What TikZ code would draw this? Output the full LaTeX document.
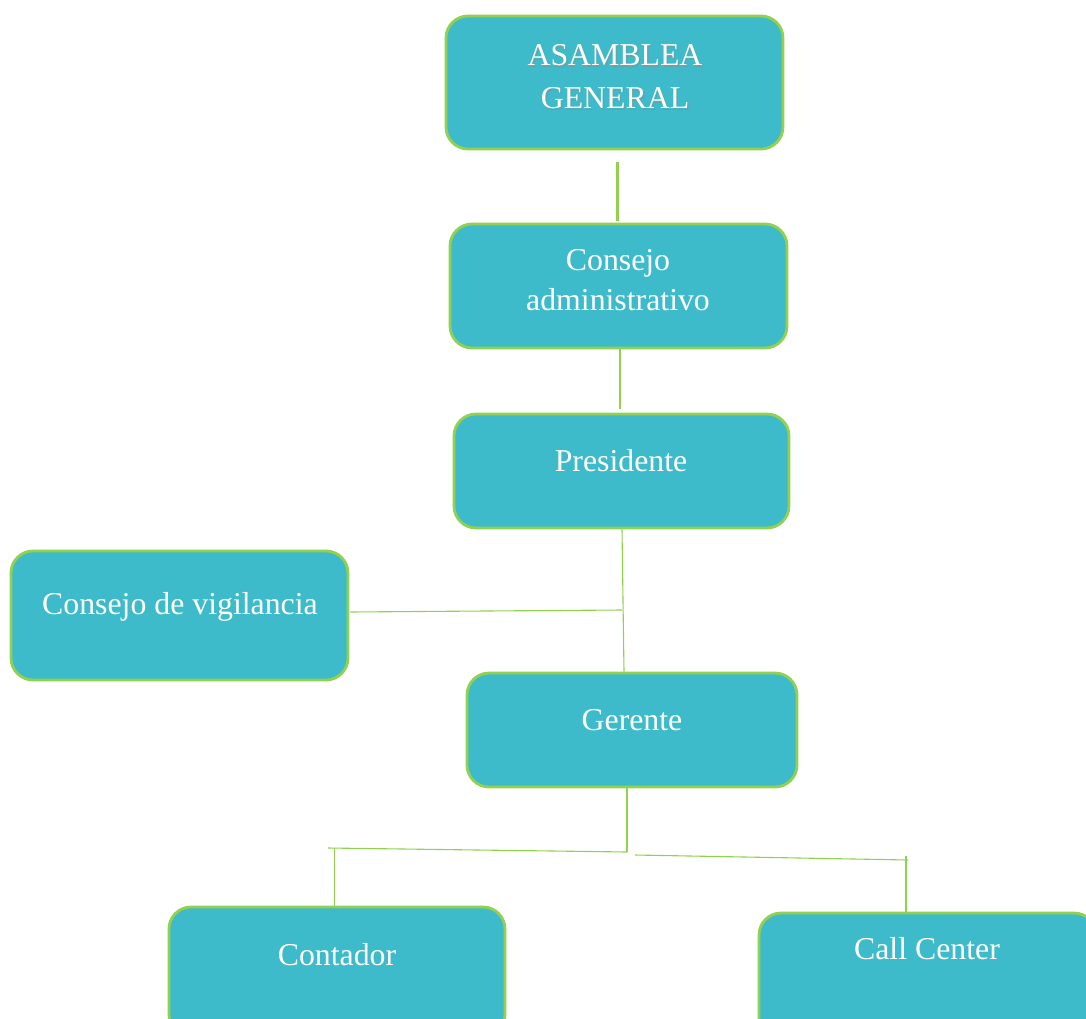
\documentclass[tikz,border=0pt]{standalone}
\usepackage{fontspec}
\setmainfont{Liberation Serif}
\definecolor{boxfill}{HTML}{3DBBCB}
\definecolor{boxline}{HTML}{92D050}
\tikzset{
  orgbox/.style={draw=boxline, line width=2.8pt, fill=boxfill, rounded corners=22pt, inner sep=0pt},
  orgtext/.style={text=white, font=\fontsize{31.8}{43}\selectfont, align=center, inner sep=0pt},
  shadowtext/.style={text=black!45, opacity=0.45, font=\fontsize{31.8}{43}\selectfont, align=center, inner sep=0pt},
  link/.style={draw=boxline, line width=1.1pt},
  thicklink/.style={draw=boxline, line width=3pt},
}
\begin{document}
\begin{tikzpicture}[x=1pt,y=-1pt]
\useasboundingbox (0,0) rectangle (1086,1019);
% boxes
\node[orgbox, minimum width=337pt, minimum height=133pt] (asam) at (614.5,82.5) {};
\node[orgbox, minimum width=337pt, minimum height=124pt] (cadm) at (618.5,286) {};
\node[orgbox, minimum width=335pt, minimum height=114pt] (pres) at (621.5,471) {};
\node[orgbox, minimum width=337pt, minimum height=129pt] (cvig) at (179.5,615.5) {};
\node[orgbox, minimum width=330pt, minimum height=114pt] (ger) at (632,730) {};
\node[orgbox, minimum width=336pt, minimum height=130pt] (cont) at (337,972) {};
\node[orgbox, minimum width=337pt, minimum height=130pt] (call) at (927.5,978) {};
% texts
\node[shadowtext] (asamsh) at (616.5,78.5) {ASAMBLEA\\GENERAL};
\node[orgtext] (asamt) at (615,76.5) {ASAMBLEA\\GENERAL};
\node[orgtext, font=\fontsize{31.8}{40}\selectfont] (cadmt) at (618,280) {Consejo\\administrativo};
\node[orgtext] (prest) at (621,461) {Presidente};
\node[orgtext] (cvigt) at (180,607) {Consejo de vigilancia};
\node[orgtext] (gert) at (632,720) {Gerente};
\node[orgtext] (contt) at (337,955) {Contador};
\node[orgtext] (callt) at (927,949) {Call Center};
% junction coordinates
\coordinate (jp) at (622,610);
\coordinate (jg) at (627,852);
\coordinate (jl) at (328,848);
\coordinate (jlv) at (334.5,848.1);
\coordinate (jr0) at (635,855);
\coordinate (jr) at (908,860);
\coordinate (jrv) at (906,856);
% connectors
\draw[thicklink] ([xshift=2.5pt,yshift=-12pt]asam.south) -- ([xshift=-1.5pt,yshift=2pt]cadm.north);
\draw[link] ([xshift=1.5pt]cadm.south) -- ([xshift=-1.5pt,yshift=4pt]pres.north);
\draw[link] ([xshift=0.5pt]pres.south) -- ([xshift=-8pt]ger.north);
\draw[link] ([yshift=3.5pt,xshift=1pt]cvig.east) -- (jp);
\draw[link] ([xshift=-5pt]ger.south) -- (jg);
\draw[link] (jl) -- (jg);
\draw[link] (jr0) -- (jr);
\draw[link] ([xshift=-2.5pt]cont.north) -- (jlv);
\draw[link] ([xshift=-21.5pt]call.north) -- (jrv);
\end{tikzpicture}
\end{document}
